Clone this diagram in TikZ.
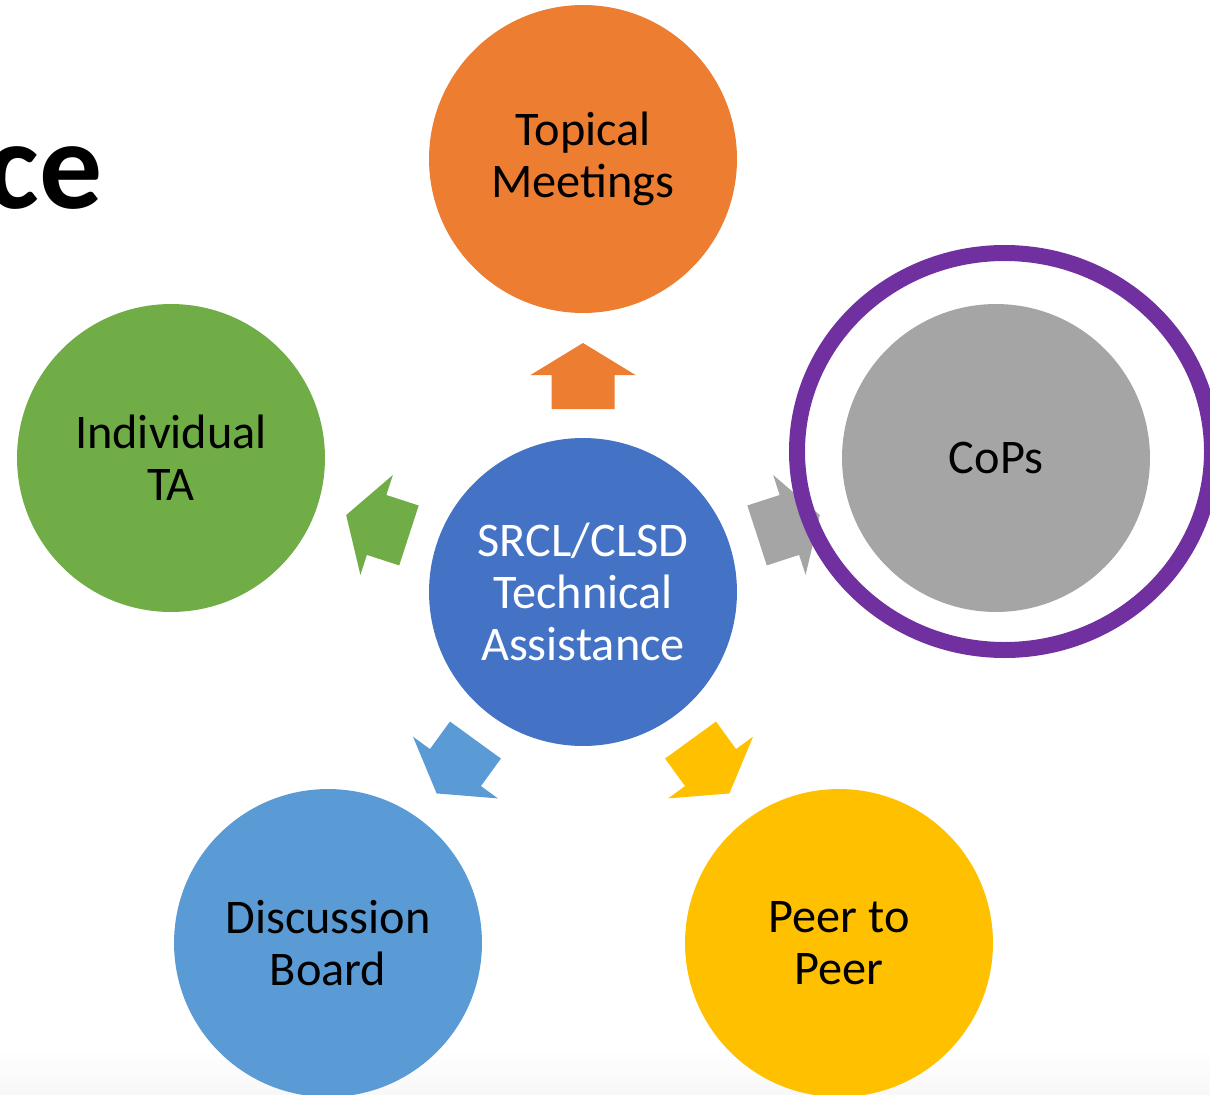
\documentclass[tikz,border=0pt]{standalone}
\usepackage{fontspec}
\setmainfont{Carlito}
\definecolor{cOrange}{HTML}{ED7D31}
\definecolor{cBlue}{HTML}{4472C4}
\definecolor{cGreen}{HTML}{70AD47}
\definecolor{cGray}{HTML}{A5A5A5}
\definecolor{cLightBlue}{HTML}{5B9BD5}
\definecolor{cGold}{HTML}{FFC000}
\definecolor{cPurple}{HTML}{7030A0}
\begin{document}
\begin{tikzpicture}[x=0.02cm,y=0.02cm,
  bubble/.style={circle, minimum size=6.16cm, inner sep=0pt, align=center,
    font=\fontsize{27.5pt}{29.7pt}\selectfont}]
\useasboundingbox (0,0) rectangle (1210,-1095);
\clip (0,0) rectangle (1210,-1095);
\shade[top color=white, bottom color=black!3] (0,-1050) rectangle (1210,-1095);
% title fragment
\node[anchor=base east, inner sep=0pt, font=\fontsize{71.5pt}{80pt}\selectfont\bfseries] (title) at (103,-208) {ce};
% circles
\node[bubble, fill=cBlue, text=white] (center) at (583,-592) {SRCL/CLSD\\Technical\\Assistance};
\node[bubble, fill=cOrange] (topical) at (583,-159) {Topical\\Meetings};
\node[bubble, fill=cGreen] (indiv) at (171,-458) {Individual\\TA};
\node[bubble, fill=cGray] (cops) at (996,-458) {CoPs};
\node[bubble, fill=cLightBlue] (disc) at (328,-943) {Discussion\\Board};
\node[bubble, fill=cGold] (peer) at (839,-943) {Peer to\\Peer};
% block arrows radiating from the centre
\foreach \ang/\col in {90/cOrange,162/cGreen,18/cGray,234/cLightBlue,306/cGold}{
  \fill[\col, shift={(center.center)}, rotate=\ang-90]
    (-31.5,183) -- (-31.5,217) -- (-52.5,217) -- (0,249) -- (52.5,217) -- (31.5,217) -- (31.5,183) -- cycle;
}
% highlight ring
\draw[cPurple, line width=0.32cm] (1004.5,-451.5) ellipse [x radius=207.5, y radius=198.5];
\end{tikzpicture}
\end{document}
